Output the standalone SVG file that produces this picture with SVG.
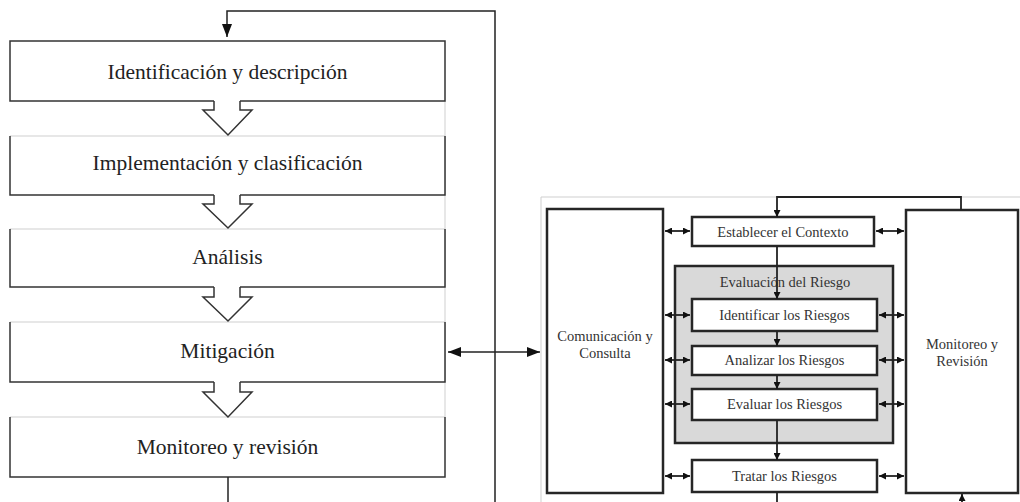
<svg xmlns="http://www.w3.org/2000/svg" width="1020" height="502" viewBox="0 0 1020 502">
<defs>
<style>
.box{fill:#fff;stroke:none}
.edge{fill:none;stroke:#333;stroke-width:1.5}
.light{fill:none;stroke:#cfcfcf;stroke-width:1}
.hollow{fill:#fff;stroke:#333;stroke-width:1.5;stroke-linejoin:miter}
.lt{font-family:"Liberation Serif","Times New Roman",serif;font-size:21.5px;fill:#222;text-anchor:middle}
.rt{font-family:"Liberation Serif","Times New Roman",serif;font-size:14.5px;fill:#333;text-anchor:middle}
.rbox{fill:#fff;stroke:#262626;stroke-width:2.5}
.gray{fill:#d9d9d9;stroke:#262626;stroke-width:2.5}
.conn{fill:none;stroke:#222;stroke-width:1.5}
.sconn{fill:none;stroke:#222;stroke-width:1.8}
</style>
<marker id="big" markerUnits="userSpaceOnUse" markerWidth="13" markerHeight="10" refX="13" refY="5" orient="auto-start-reverse">
<path d="M0,0 L13,5 L0,10 z" fill="#111"/>
</marker>
<marker id="sm" markerUnits="userSpaceOnUse" markerWidth="7" markerHeight="7" refX="7" refY="3.5" orient="auto-start-reverse">
<path d="M0,0 L7,3.5 L0,7 z" fill="#111"/>
</marker>
</defs>

<!-- Left flow -->
<path class="light" d="M445,101 V417"/>
<g id="n1">
<rect class="box" x="10" y="41" width="435" height="60"/>
<path class="edge" d="M214,101 H10 V41 H445 V101 H240"/>
<text class="lt" x="227.5" y="79">Identificación y descripción</text>
</g>
<g id="n2">
<rect class="box" x="10" y="136" width="435" height="59"/>
<path class="light" d="M10,136 H445"/>
<path class="edge" d="M214,195 H10 V136 M445,136 V195 H240"/>
<text class="lt" x="227.5" y="170">Implementación y clasificación</text>
</g>
<g id="n3">
<rect class="box" x="10" y="229" width="435" height="58"/>
<path class="light" d="M10,229 H445"/>
<path class="edge" d="M214,287 H10 V229 M445,229 V287 H240"/>
<text class="lt" x="227.5" y="264">Análisis</text>
</g>
<g id="n4">
<rect class="box" x="10" y="322" width="435" height="60"/>
<path class="light" d="M10,322 H445"/>
<path class="edge" d="M214,382 H10 V322 M445,322 V382 H240"/>
<text class="lt" x="227.5" y="358">Mitigación</text>
</g>
<g id="n5">
<rect class="box" x="10" y="417" width="435" height="60"/>
<path class="light" d="M10,417 H445"/>
<path class="edge" d="M10,417 V477 H445 V417"/>
<text class="lt" x="227.5" y="454">Monitoreo y revisión</text>
</g>

<!-- Right panel -->
<path class="light" d="M541,502 V197 H1020"/>
<g id="comunicacion">
<rect class="rbox" x="547" y="209" width="116" height="284"/>
<text class="rt" x="605" y="341">Comunicación y</text>
<text class="rt" x="605" y="358">Consulta</text>
</g>
<g id="monitoreo">
<rect class="rbox" x="906" y="210" width="112" height="283"/>
<text class="rt" x="962" y="349">Monitoreo y</text>
<text class="rt" x="962" y="366">Revisión</text>
</g>
<g id="evaluacion">
<rect class="gray" x="675" y="266" width="218" height="177"/>
<text class="rt" x="785" y="287">Evaluación del Riesgo</text>
</g>
<g id="contexto">
<rect class="rbox" x="692" y="217" width="182" height="29"/>
<text class="rt" x="783" y="237">Establecer el Contexto</text>
</g>
<g id="identificar">
<rect class="rbox" x="692" y="299" width="185" height="32"/>
<text class="rt" x="784.5" y="320">Identificar los Riesgos</text>
</g>
<g id="analizar">
<rect class="rbox" x="692" y="346" width="185" height="29"/>
<text class="rt" x="784.5" y="365">Analizar los Riesgos</text>
</g>
<g id="evaluar">
<rect class="rbox" x="692" y="389" width="185" height="31"/>
<text class="rt" x="784.5" y="409">Evaluar los Riesgos</text>
</g>
<g id="tratar">
<rect class="rbox" x="692" y="460" width="185" height="32"/>
<text class="rt" x="784.5" y="481">Tratar los Riesgos</text>
</g>

<!-- Connectors -->
<g id="connectors">
<!-- hollow arrows -->
<path class="hollow" d="M214,101 V110 H203 L228,135 L252,110 H240 V101"/>
<path class="hollow" d="M214,195 V204 H203 L228,228 L252,204 H240 V195"/>
<path class="hollow" d="M214,287 V297 H203 L228,321 L252,297 H240 V287"/>
<path class="hollow" d="M214,382 V392 H203 L228,417 L252,392 H240 V382"/>
<!-- feedback loop -->
<path class="conn" d="M228,477 V502"/>
<path class="conn" d="M495,502 V11 H227 V37" marker-end="url(#big)"/>
<!-- big double arrow -->
<path class="conn" d="M448,352 H540" marker-start="url(#big)" marker-end="url(#big)"/>
<!-- right panel vertical -->
<path class="sconn" d="M961,210 V197 H777 V217" marker-end="url(#sm)"/>
<path class="sconn" d="M777,246 V299" marker-end="url(#sm)"/>
<path class="sconn" d="M777,331 V346" marker-end="url(#sm)"/>
<path class="sconn" d="M777,375 V389" marker-end="url(#sm)"/>
<path class="sconn" d="M777,420 V460" marker-end="url(#sm)"/>
<path class="sconn" d="M777,492 V502"/>
<path class="sconn" d="M962,502 V494" marker-end="url(#sm)"/>
<!-- right panel horizontal double arrows -->
<path class="sconn" d="M665,231 H690" marker-start="url(#sm)" marker-end="url(#sm)"/>
<path class="sconn" d="M876,231 H904" marker-start="url(#sm)" marker-end="url(#sm)"/>
<path class="sconn" d="M665,315 H690" marker-start="url(#sm)" marker-end="url(#sm)"/>
<path class="sconn" d="M879,315 H904" marker-start="url(#sm)" marker-end="url(#sm)"/>
<path class="sconn" d="M665,360 H690" marker-start="url(#sm)" marker-end="url(#sm)"/>
<path class="sconn" d="M879,360 H904" marker-start="url(#sm)" marker-end="url(#sm)"/>
<path class="sconn" d="M665,404 H690" marker-start="url(#sm)" marker-end="url(#sm)"/>
<path class="sconn" d="M879,404 H904" marker-start="url(#sm)" marker-end="url(#sm)"/>
<path class="sconn" d="M665,476 H690" marker-start="url(#sm)" marker-end="url(#sm)"/>
<path class="sconn" d="M879,476 H904" marker-start="url(#sm)" marker-end="url(#sm)"/>
</g>
</svg>
